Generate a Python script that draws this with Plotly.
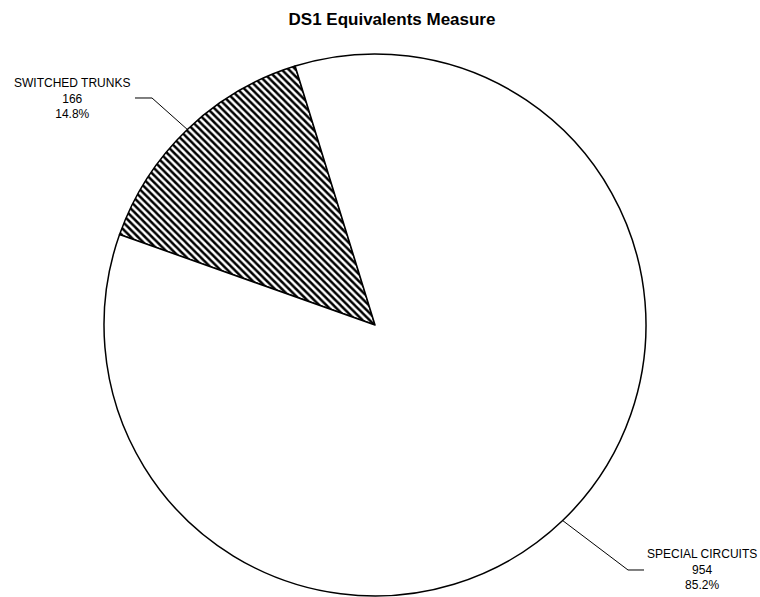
import math
import plotly.graph_objects as go

title = "DS1 Equivalents Measure"
categories = ["SWITCHED TRUNKS", "SPECIAL CIRCUITS"]
values = [166, 954]
percent_labels = ["14.8%", "85.2%"]

W, H = 760, 597
cx, cy, R = 375, 325, 271
rotation = -70.5

fig = go.Figure()
fig.add_trace(go.Pie(
    labels=categories,
    values=values,
    sort=False,
    direction="clockwise",
    rotation=rotation,
    textinfo="none",
    hoverinfo="label+value+percent",
    showlegend=False,
    marker=dict(
        colors=["white", "white"],
        line=dict(color="black", width=1.5),
        pattern=dict(shape=["\\", ""], fgcolor="black", bgcolor="white",
                     size=5, solidity=0.5),
    ),
    domain=dict(x=[(cx - R) / W, (cx + R) / W],
                y=[1 - (cy + R) / H, 1 - (cy - R) / H]),
))

# leader lines from slice mid-angles
total = sum(values)
start = rotation
label_pos = [(72, 98, -1), (702, 569, 1)]  # text centre x,y and side
shapes = []
annotations = []
for i, v in enumerate(values):
    span = v / total * 360
    mid = math.radians(start + span / 2)
    start += span
    ax = cx + R * math.sin(mid)
    ay = cy - R * math.cos(mid)
    tx, ty, side = label_pos[i]
    if side < 0:
        elbow = (152, ty)
        end = (135, ty)
    else:
        elbow = (628, ty + 1)
        end = (644, ty + 1)
    pts = [(ax, ay), elbow, end]
    path = "M " + " L ".join(f"{x / W:.5f},{1 - y / H:.5f}" for x, y in pts)
    shapes.append(dict(type="path", path=path, xref="paper", yref="paper",
                       line=dict(color="black", width=1)))
    annotations.append(dict(
        x=tx / W, y=1 - ty / H, xref="paper", yref="paper",
        text=f"{categories[i]}<br>{v}<br>{percent_labels[i]}",
        showarrow=False, align="center", xanchor="center", yanchor="middle",
        font=dict(family="Arial, Liberation Sans", size=12, color="black"),
    ))

fig.update_layout(
    width=W, height=H,
    margin=dict(l=0, r=0, t=0, b=0),
    paper_bgcolor="white", plot_bgcolor="white",
    title=dict(text="<b>" + title + "</b>", x=392 / W, xanchor="center",
               y=1 - 19 / H, yanchor="middle", yref="container",
               font=dict(family="Arial, Liberation Sans", size=17, color="black")),
    shapes=shapes,
    annotations=annotations,
)

fig.write_html("out.html")
